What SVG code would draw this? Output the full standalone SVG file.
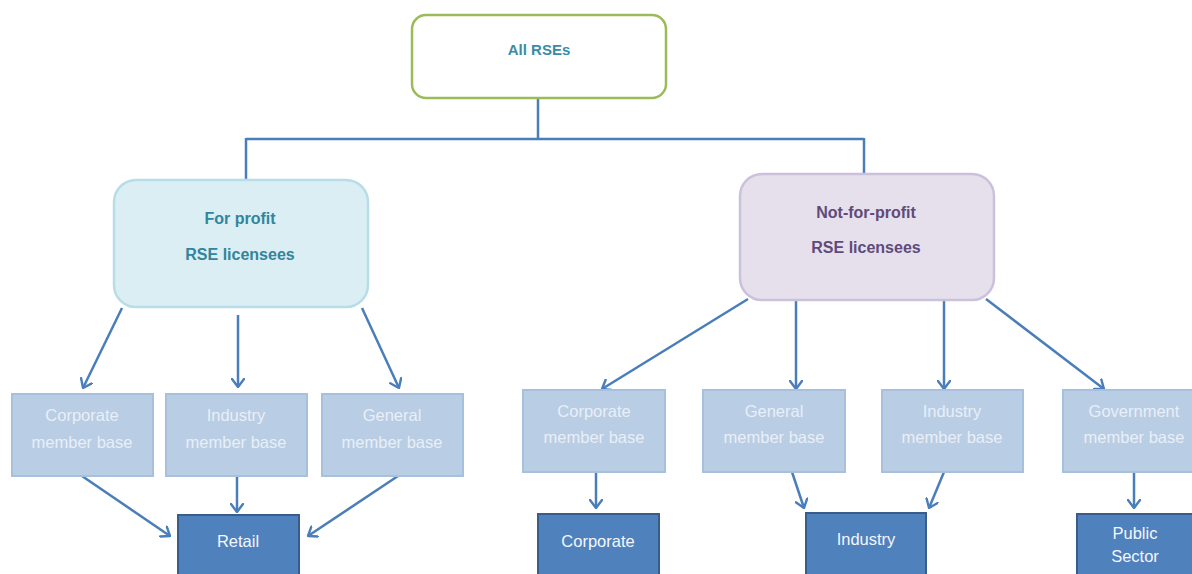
<svg xmlns="http://www.w3.org/2000/svg" width="1192" height="574" viewBox="0 0 1192 574">
<defs>
<marker id="ah" viewBox="0 0 10 14" refX="9" refY="7" markerWidth="10" markerHeight="14" markerUnits="userSpaceOnUse" orient="auto">
<path d="M1,1 L9,7 L1,13" fill="none" stroke="#4a7ebb" stroke-width="2.4" stroke-linecap="round" stroke-linejoin="round"/>
</marker>
</defs>
<style>
.t{font-family:"Liberation Sans",Arial,sans-serif;text-anchor:middle}
.top{fill:#ffffff;stroke:#9bbb59;stroke-width:2.5}
.fp{fill:#dbeef4;stroke:#b7dde8;stroke-width:2.5}
.nfp{fill:#e5e0ec;stroke:#ccc1da;stroke-width:2.5}
.mb{fill:#b9cde5;stroke:#a7c0de;stroke-width:2}
.out{fill:#4f81bd;stroke:#385d8a;stroke-width:2}
.mbt{font-size:16.5px;fill:#e9eff7}
.outt{font-size:16.5px;fill:#f4f7fb}
.bt{font-size:16px;font-weight:bold}
.ln{fill:none;stroke:#4a7ebb;stroke-width:2.5}
.ar{fill:none;stroke:#4a7ebb;stroke-width:2.5;marker-end:url(#ah)}
</style>
<g id="connectors">
<path class="ln" d="M538,98 V139 M246,139 H864 M246,138 V180 M864,138 V174"/>
<line class="ar" x1="122" y1="308" x2="83" y2="388"/>
<line class="ar" x1="238" y1="315" x2="238" y2="387"/>
<line class="ar" x1="362" y1="308" x2="399" y2="388"/>
<line class="ar" x1="82" y1="476" x2="170" y2="536"/>
<line class="ar" x1="237" y1="477" x2="237" y2="512"/>
<line class="ar" x1="398" y1="476" x2="308" y2="536"/>
<line class="ar" x1="748" y1="299" x2="602" y2="389"/>
<line class="ar" x1="796" y1="300" x2="796" y2="389"/>
<line class="ar" x1="944" y1="300" x2="944" y2="389"/>
<line class="ar" x1="986" y1="299" x2="1104" y2="389"/>
<line class="ar" x1="596" y1="472" x2="596" y2="508"/>
<line class="ar" x1="792" y1="472" x2="804" y2="508"/>
<line class="ar" x1="944" y1="472" x2="929" y2="508"/>
<line class="ar" x1="1134" y1="472" x2="1134" y2="508"/>
</g>
<g id="all-rses">
<rect class="top" x="412" y="15" width="254" height="83" rx="14"/>
<text class="t" x="539" y="55" style="font-size:15px;font-weight:bold;fill:#3a8ca6">All RSEs</text>
</g>
<g id="for-profit">
<rect class="fp" x="114" y="180" width="254" height="127" rx="22"/>
<text class="t bt" x="240" y="224" fill="#31859c">For profit</text>
<text class="t bt" x="240" y="260" fill="#31859c">RSE licensees</text>
</g>
<g id="not-for-profit">
<rect class="nfp" x="740" y="174" width="254" height="126" rx="22"/>
<text class="t bt" x="866" y="218" fill="#604a7b">Not-for-profit</text>
<text class="t bt" x="866" y="253" fill="#604a7b">RSE licensees</text>
</g>
<g id="fp-corporate">
<rect class="mb" x="12" y="394" width="141" height="82"/>
<text class="t mbt" x="82" y="421">Corporate</text>
<text class="t mbt" x="82" y="448">member base</text>
</g>
<g id="fp-industry">
<rect class="mb" x="166" y="394" width="141" height="82"/>
<text class="t mbt" x="236" y="421">Industry</text>
<text class="t mbt" x="236" y="448">member base</text>
</g>
<g id="fp-general">
<rect class="mb" x="322" y="394" width="141" height="82"/>
<text class="t mbt" x="392" y="421">General</text>
<text class="t mbt" x="392" y="448">member base</text>
</g>
<g id="nfp-corporate">
<rect class="mb" x="523" y="390" width="142" height="82"/>
<text class="t mbt" x="594" y="417">Corporate</text>
<text class="t mbt" x="594" y="443">member base</text>
</g>
<g id="nfp-general">
<rect class="mb" x="703" y="390" width="142" height="82"/>
<text class="t mbt" x="774" y="417">General</text>
<text class="t mbt" x="774" y="443">member base</text>
</g>
<g id="nfp-industry">
<rect class="mb" x="882" y="390" width="141" height="82"/>
<text class="t mbt" x="952" y="417">Industry</text>
<text class="t mbt" x="952" y="443">member base</text>
</g>
<g id="nfp-government">
<rect class="mb" x="1063" y="390" width="142" height="82"/>
<text class="t mbt" x="1134" y="417">Government</text>
<text class="t mbt" x="1134" y="443">member base</text>
</g>
<g id="retail">
<rect class="out" x="178" y="515" width="121" height="70"/>
<text class="t outt" x="238" y="547">Retail</text>
</g>
<g id="corporate">
<rect class="out" x="538" y="514" width="121" height="70"/>
<text class="t outt" x="598" y="547">Corporate</text>
</g>
<g id="industry">
<rect class="out" x="806" y="513" width="120" height="70"/>
<text class="t outt" x="866" y="545">Industry</text>
</g>
<g id="public-sector">
<rect class="out" x="1077" y="514" width="118" height="70"/>
<text class="t outt" x="1135" y="539">Public</text>
<text class="t outt" x="1135" y="562">Sector</text>
</g>
</svg>
